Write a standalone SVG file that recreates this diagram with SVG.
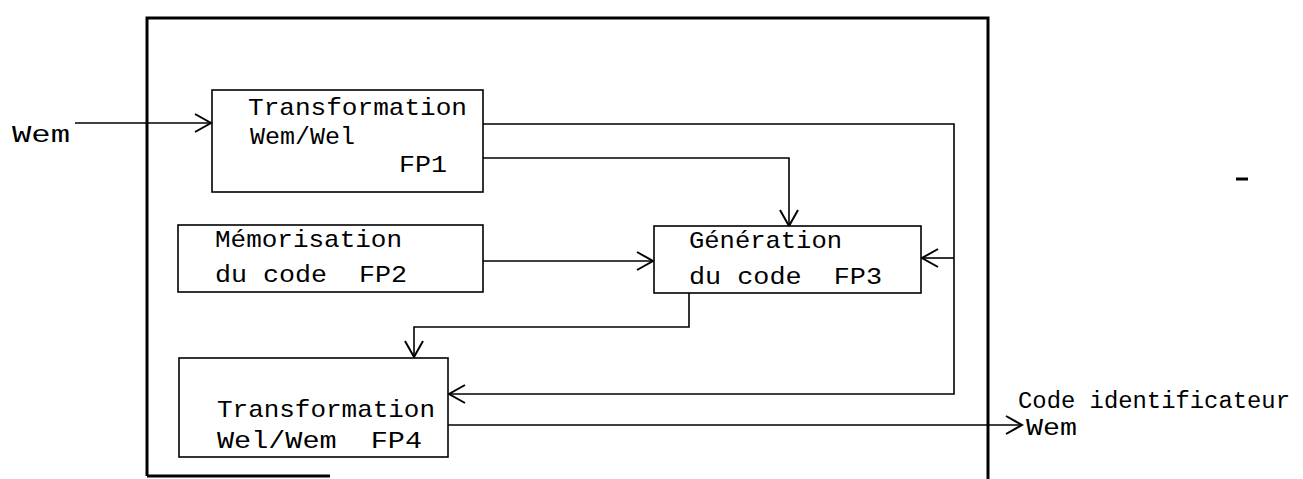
<svg xmlns="http://www.w3.org/2000/svg" width="1303" height="479" viewBox="0 0 1303 479">
  <style>
    .frame { fill: none; stroke: #000; stroke-width: 3; }
    .box { fill: #fff; stroke: #000; stroke-width: 1.6; }
    .wire { fill: none; stroke: #000; stroke-width: 1.6; }
    .lbl { font-family: "Liberation Mono", "DejaVu Sans Mono", monospace; font-size: 24px; fill: #000; white-space: pre; }
    .io { font-family: "Liberation Mono", "DejaVu Sans Mono", monospace; font-size: 23px; fill: #000; white-space: pre; }
  </style>
  <defs>
    <marker id="arrow" viewBox="-18 -11 20 22" markerWidth="20" markerHeight="22" refX="0" refY="0" markerUnits="userSpaceOnUse" orient="auto" overflow="visible">
      <path d="M-16,-9 L0,0 L-16,9" fill="none" stroke="#000" stroke-width="2"/>
    </marker>
  </defs>
  <rect width="1303" height="479" fill="#fff"/>

  <!-- system boundary -->
  <g id="boundary">
    <path class="frame" d="M147,476 V18 H988 V479"/>
    <path class="frame" d="M147,476 H330"/>
  </g>

  <!-- connectors -->
  <g id="connectors">
    <path class="wire" d="M75,123 H211" marker-end="url(#arrow)"/>
    <path class="wire" d="M483,158 H789 V226" marker-end="url(#arrow)"/>
    <path class="wire" d="M483,124 H954 V394 H449" marker-end="url(#arrow)"/>
    <path class="wire" d="M954,258 H922" marker-end="url(#arrow)"/>
    <path class="wire" d="M483,261 H653" marker-end="url(#arrow)"/>
    <path class="wire" d="M689,293 V327 H414 V357" marker-end="url(#arrow)"/>
    <path class="wire" d="M448,425 H1022" marker-end="url(#arrow)"/>
  </g>

  <g id="fp1">
    <rect class="box" x="212" y="90" width="271" height="102"/>
    <text class="lbl" x="248" y="115" textLength="219" lengthAdjust="spacingAndGlyphs">Transformation</text>
    <text class="lbl" x="250" y="144" textLength="105" lengthAdjust="spacingAndGlyphs">Wem/Wel</text>
    <text class="lbl" x="399" y="172" textLength="48" lengthAdjust="spacingAndGlyphs">FP1</text>
  </g>

  <g id="fp2">
    <rect class="box" x="178" y="225" width="305" height="67"/>
    <text class="lbl" x="215" y="247" textLength="187" lengthAdjust="spacingAndGlyphs">Mémorisation</text>
    <text class="lbl" x="215" y="282" textLength="192" lengthAdjust="spacingAndGlyphs" xml:space="preserve">du code  FP2</text>
  </g>

  <g id="fp3">
    <rect class="box" x="654" y="226" width="267" height="67"/>
    <text class="lbl" x="689" y="248" textLength="153" lengthAdjust="spacingAndGlyphs">Génération</text>
    <text class="lbl" x="689" y="284" textLength="193" lengthAdjust="spacingAndGlyphs" xml:space="preserve">du code  FP3</text>
  </g>

  <g id="fp4">
    <rect class="box" x="179" y="358" width="269" height="99"/>
    <text class="lbl" x="217" y="417" textLength="218" lengthAdjust="spacingAndGlyphs">Transformation</text>
    <text class="lbl" x="217" y="448" textLength="205" lengthAdjust="spacingAndGlyphs" xml:space="preserve">Wel/Wem  FP4</text>
  </g>

  <g id="input">
    <text class="io" x="12" y="142" textLength="58" lengthAdjust="spacingAndGlyphs">Wem</text>
  </g>

  <g id="output">
    <text class="io" x="1018" y="408" textLength="272" lengthAdjust="spacingAndGlyphs">Code identificateur</text>
    <text class="io" x="1026" y="435" textLength="51" lengthAdjust="spacingAndGlyphs">Wem</text>
  </g>

  <path d="M1236,179 H1248" stroke="#000" stroke-width="3"/>
</svg>
